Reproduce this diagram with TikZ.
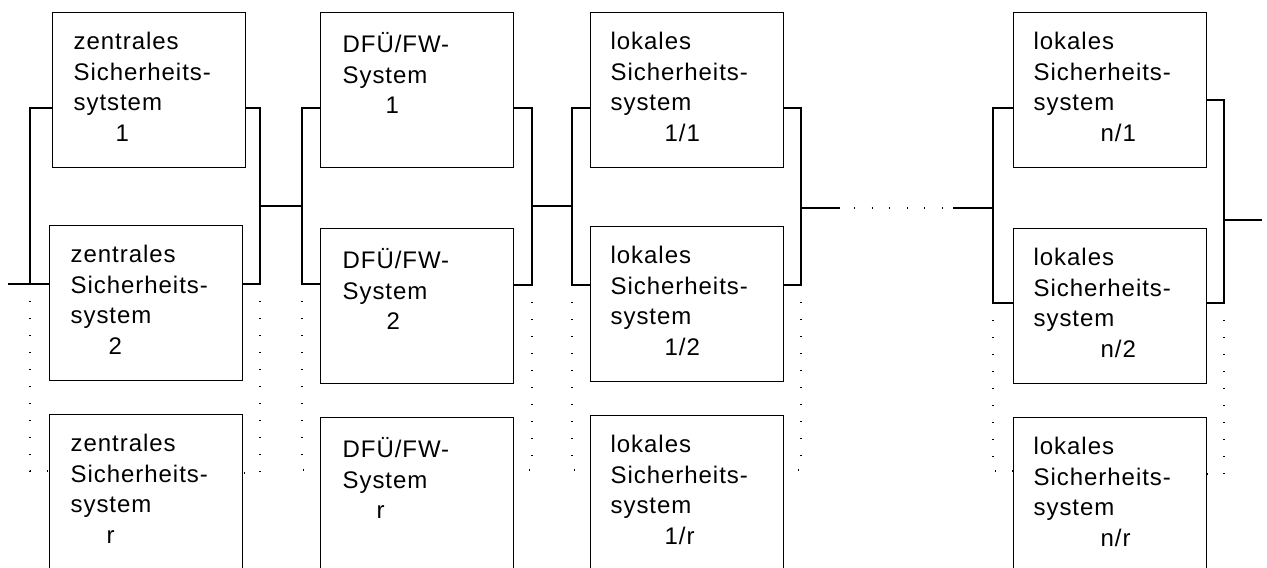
\documentclass[tikz,border=0pt]{standalone}
\usepackage{fontspec}
\setmainfont{Liberation Sans}[LetterSpace=4]

\begin{document}
\begin{tikzpicture}[x=0.5pt,y=-0.5pt,line width=0.6pt,
	blk/.style={draw,rectangle,anchor=north west,minimum width=96.5pt,minimum height=77.5pt,inner sep=0pt},
	txt/.style={anchor=north west,inner sep=0pt,align=left,font=\fontsize{12pt}{15.25pt}\selectfont},
	dotline/.style={dash pattern=on 0.5pt off 8pt},
	gapline/.style={dash pattern=on 19.5pt off 7pt on 0.5pt off 8.3pt on 0.5pt off 8.3pt on 0.5pt off 8.3pt on 0.5pt off 8.3pt on 0.5pt off 8.3pt on 0.5pt off 5pt on 20pt}]
	\useasboundingbox (0,0) rectangle (1267,567);
	\clip (0,0) rectangle (1267,567);
	% zentrale Sicherheitssysteme
	\node[blk] (z1) at (52,12) {};
	\node[txt] (z1t) at ([shift={(21,20)}]z1.north west) {zentrales\\Sicherheits-\\sytstem\\\hspace*{21pt}1};
	\node[blk] (z2) at (49,225) {};
	\node[txt] (z2t) at ([shift={(21,20)}]z2.north west) {zentrales\\Sicherheits-\\system\\\hspace*{19pt}2};
	\node[blk] (z3) at (49,414) {};
	\node[txt] (z3t) at ([shift={(21,20)}]z3.north west) {zentrales\\Sicherheits-\\system\\\hspace*{18pt}r};
	% DFUE/FW-Systeme
	\node[blk] (d1) at (320,12) {};
	\node[txt] (d1t) at ([shift={(22,20)}]d1.north west) {DFÜ/FW-\\System\\\hspace*{21.5pt}1};
	\node[blk] (d2) at (320,228) {};
	\node[txt] (d2t) at ([shift={(22,20)}]d2.north west) {DFÜ/FW-\\System\\\hspace*{22pt}2};
	\node[blk] (d3) at (320,417) {};
	\node[txt] (d3t) at ([shift={(22,20)}]d3.north west) {DFÜ/FW-\\System\\\hspace*{17pt}r};
	% lokale Sicherheitssysteme 1
	\node[blk] (l1) at (590,12) {};
	\node[txt] (l1t) at ([shift={(20,20)}]l1.north west) {lokales\\Sicherheits-\\system\\\hspace*{27pt}1/1};
	\node[blk] (l2) at (590,226) {};
	\node[txt] (l2t) at ([shift={(20,20)}]l2.north west) {lokales\\Sicherheits-\\system\\\hspace*{27pt}1/2};
	\node[blk] (l3) at (590,415) {};
	\node[txt] (l3t) at ([shift={(20,20)}]l3.north west) {lokales\\Sicherheits-\\system\\\hspace*{27pt}1/r};
	% lokale Sicherheitssysteme n
	\node[blk] (n1) at (1013,12) {};
	\node[txt] (n1t) at ([shift={(20,20)}]n1.north west) {lokales\\Sicherheits-\\system\\\hspace*{33.5pt}n/1};
	\node[blk] (n2) at (1013,228) {};
	\node[txt] (n2t) at ([shift={(20,20)}]n2.north west) {lokales\\Sicherheits-\\system\\\hspace*{33.5pt}n/2};
	\node[blk] (n3) at (1013,417) {};
	\node[txt] (n3t) at ([shift={(20,20)}]n3.north west) {lokales\\Sicherheits-\\system\\\hspace*{33.5pt}n/r};
	% Sammelleitungen
	\coordinate (start) at (8,284);
	\coordinate (zLt) at (30,108); \coordinate (zLm) at (30,284); \coordinate (zLb) at (30,471);
	\coordinate (zRt) at (260,108); \coordinate (zRm) at (260,284); \coordinate (zRb) at (260,473);
	\coordinate (zOut) at (260,206);
	\coordinate (dLt) at (302,108); \coordinate (dLm) at (302,284); \coordinate (dLb) at (302,470);
	\coordinate (dRt) at (532,108); \coordinate (dRm) at (532,285); \coordinate (dRb) at (532,470);
	\coordinate (dIn) at (302,206); \coordinate (dOut) at (532,206);
	\coordinate (lLt) at (572,108); \coordinate (lLm) at (572,285); \coordinate (lLb) at (572,470);
	\coordinate (lRt) at (801,108); \coordinate (lRm) at (801,285); \coordinate (lRb) at (801,470);
	\coordinate (lIn) at (572,206); \coordinate (lOut) at (801,208);
	\coordinate (nLt) at (993,108); \coordinate (nLm) at (993,303); \coordinate (nLb) at (993,471);
	\coordinate (nRt) at (1224,100); \coordinate (nRm) at (1224,303); \coordinate (nRb) at (1224,474);
	\coordinate (nIn) at (993,208); \coordinate (nOut) at (1224,220);
	\coordinate (finish) at (1262,220);
	\draw (start) -- (zLm);
	\draw (z1.west |- zLt) -- (zLt) -- (zLm) -- (z2.west |- zLm);
	\draw (z1.east |- zRt) -- (zRt) -- (zRm) -- (z2.east |- zRm);
	\draw[dotline] (zLm) -- (zLb) -- (z3.west |- zLb);
	\draw[dotline] (zRm) -- (zRb) -- (z3.east |- zRb);
	\draw (zOut) -- (dIn);
	\draw (d1.west |- dLt) -- (dLt) -- (dLm) -- (d2.west |- dLm);
	\draw (d1.east |- dRt) -- (dRt) -- (dRm) -- (d2.east |- dRm);
	\draw[dotline] (dLm) -- (dLb) -- (d3.west |- dLb);
	\draw[dotline] (dRm) -- (dRb) -- (d3.east |- dRb);
	\draw (dOut) -- (lIn);
	\draw (l1.west |- lLt) -- (lLt) -- (lLm) -- (l2.west |- lLm);
	\draw (l1.east |- lRt) -- (lRt) -- (lRm) -- (l2.east |- lRm);
	\draw[dotline] (lLm) -- (lLb) -- (l3.west |- lLb);
	\draw[dotline] (lRm) -- (lRb) -- (l3.east |- lRb);
	\draw[gapline] (lOut) -- (nIn);
	\draw (n1.west |- nLt) -- (nLt) -- (nLm) -- (n2.west |- nLm);
	\draw (n1.east |- nRt) -- (nRt) -- (nRm) -- (n2.east |- nRm);
	\draw[dotline] (nLm) -- (nLb) -- (n3.west |- nLb);
	\draw[dotline] (nRm) -- (nRb) -- (n3.east |- nRb);
	\draw (nOut) -- (finish);
\end{tikzpicture}
\end{document}
